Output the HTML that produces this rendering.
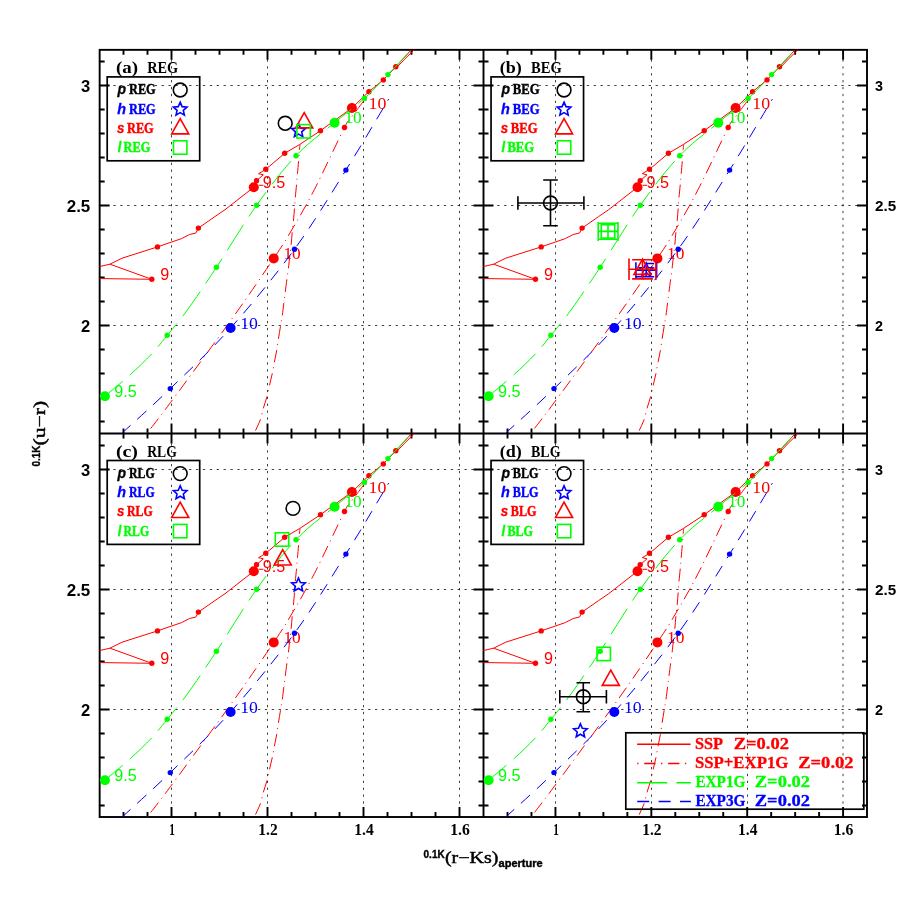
<!DOCTYPE html>
<html><head><meta charset="utf-8"><title>chart</title>
<style>html,body{margin:0;padding:0;background:#fff;}svg{display:block;will-change:transform;}</style></head>
<body>
<svg width="915" height="915" viewBox="0 0 915 915">
<rect width="915" height="915" fill="#fff"/>
<defs>
<clipPath id="clipA"><rect x="99.65" y="49.85" width="383.85" height="383.60"/></clipPath>
<g id="curves" fill="none" stroke-width="1">
<path d="M95.00,278.50 L151.80,279.30 L109.90,264.20 L95.00,267.60" stroke="#ff0000"/>
<path d="M109.90,264.20 L122.00,258.20 L157.50,246.90 L181.60,238.60 L189.50,234.50 L195.90,233.00 L198.40,228.10 L215.00,216.50 L225.00,209.70 L253.80,187.20 L256.50,180.70 L263.30,174.80 L258.60,173.70 L265.80,169.30 L284.70,153.30 L299.50,144.60 L320.50,130.70 L351.90,108.00 L368.90,91.70 L383.30,79.90 L395.80,66.80 L415.00,45.80" stroke="#ff0000"/>
<path d="M259,185.3 L263.4,185.3" stroke="#ff0000"/>
<path d="M396.6,67.6 L404.6,59.2 L413.4,50.6 L414,48" stroke="#ff0000"/>
<circle cx="151.80" cy="279.30" r="2.7" fill="#ff0000" stroke="none"/>
<circle cx="157.50" cy="246.90" r="2.7" fill="#ff0000" stroke="none"/>
<circle cx="198.40" cy="228.10" r="2.7" fill="#ff0000" stroke="none"/>
<circle cx="256.50" cy="180.70" r="2.7" fill="#ff0000" stroke="none"/>
<circle cx="265.80" cy="169.30" r="2.7" fill="#ff0000" stroke="none"/>
<circle cx="284.70" cy="153.30" r="2.7" fill="#ff0000" stroke="none"/>
<circle cx="320.50" cy="130.70" r="2.7" fill="#ff0000" stroke="none"/>
<circle cx="368.90" cy="91.70" r="2.7" fill="#ff0000" stroke="none"/>
<circle cx="383.30" cy="79.90" r="2.7" fill="#ff0000" stroke="none"/>
<circle cx="395.80" cy="66.80" r="2.7" fill="#ff0000" stroke="none"/>
<circle cx="253.80" cy="187.20" r="5.0" fill="#ff0000" stroke="none"/>
<circle cx="351.90" cy="108.00" r="5.0" fill="#ff0000" stroke="none"/>
<text x="160.20" y="279.90" fill="#ff0000" stroke="none" font-family="Liberation Sans, sans-serif" font-size="16.3px" textLength="9.00" lengthAdjust="spacingAndGlyphs">9</text>
<text x="262.70" y="188.00" fill="#ff0000" stroke="none" font-family="Liberation Sans, sans-serif" font-size="16.3px" textLength="22.50" lengthAdjust="spacingAndGlyphs">9.5</text>
<text x="368.60" y="108.70" fill="#ff0000" stroke="none" font-family="Liberation Serif, serif" font-size="17.2px" textLength="17.90" lengthAdjust="spacingAndGlyphs">10</text>
<path d="M140.00,442.50 C141.27,440.83 142.53,439.13 147.60,432.50 C152.67,425.87 156.08,422.02 170.40,402.70 C184.72,383.38 216.28,340.65 233.50,316.60 C250.72,292.55 264.00,272.83 273.70,258.40 C283.40,243.97 284.92,241.48 291.70,230.00 C298.48,218.52 305.60,206.58 314.40,189.50 C323.20,172.42 338.63,139.00 344.50,127.50 C350.37,116.00 348.30,122.40 349.60,120.50 C350.90,118.60 351.03,117.92 352.30,116.10 C353.57,114.28 355.37,112.05 357.20,109.60 C359.03,107.15 361.75,103.53 363.30,101.40 C364.85,99.27 365.97,97.57 366.50,96.80" stroke="#ff0000" stroke-dasharray="12.5 5.1 1.1 5" stroke-dashoffset="6.0"/>
<path d="M253.00,437.00 C253.43,435.90 254.37,433.30 255.60,430.40 C256.83,427.50 259.10,423.32 260.40,419.60 C261.70,415.88 262.28,412.02 263.40,408.10 C264.52,404.18 266.08,399.90 267.10,396.10 C268.12,392.30 268.65,389.00 269.50,385.30 C270.35,381.60 271.40,377.70 272.20,373.90 C273.00,370.10 273.55,366.42 274.30,362.50 C275.05,358.58 276.02,354.32 276.70,350.40 C277.38,346.48 277.73,343.23 278.40,339.00 C279.07,334.77 280.07,328.83 280.70,325.00 C281.33,321.17 281.65,319.82 282.20,316.00 C282.75,312.18 283.50,306.02 284.00,302.10 C284.50,298.18 284.70,296.40 285.20,292.50 C285.70,288.60 286.48,282.60 287.00,278.70 C287.52,274.80 287.83,272.92 288.30,269.10 C288.77,265.28 289.35,259.65 289.80,255.80 C290.25,251.95 290.60,249.90 291.00,246.00 C291.40,242.10 291.80,236.47 292.20,232.40 C292.60,228.33 293.02,225.62 293.40,221.60 C293.78,217.58 294.18,212.32 294.50,208.30 C294.82,204.28 294.93,201.70 295.30,197.50 C295.67,193.30 296.35,186.90 296.70,183.10 C297.05,179.30 297.08,178.42 297.40,174.70 C297.72,170.98 298.25,165.02 298.60,160.80 C298.95,156.58 299.27,152.10 299.50,149.40 C299.73,146.70 299.92,145.40 300.00,144.60" stroke="#ff0000" stroke-dasharray="12.5 5.1 1.1 5.05" stroke-dashoffset="16.95"/>
<circle cx="344.50" cy="127.50" r="2.7" fill="#ff0000" stroke="none"/>
<circle cx="273.70" cy="258.40" r="5.0" fill="#ff0000" stroke="none"/>
<text x="283.40" y="259.20" fill="#ff0000" stroke="none" font-family="Liberation Serif, serif" font-size="17.2px" textLength="17.30" lengthAdjust="spacingAndGlyphs">10</text>
<path d="M104.90,396.20 C109.05,392.68 121.98,382.17 129.80,375.10 C137.62,368.03 145.57,360.43 151.80,353.80 C158.03,347.17 161.28,342.60 167.20,335.30 C173.12,328.00 179.08,321.35 187.30,310.00 C195.52,298.65 204.95,284.67 216.50,267.20 C228.05,249.73 243.35,223.78 256.60,205.20 C269.85,186.62 283.00,169.45 296.00,155.70 C309.00,141.95 323.20,132.25 334.60,122.70 C346.00,113.15 355.52,106.42 364.40,98.40 C373.28,90.38 379.47,83.37 387.90,74.60 C396.33,65.83 410.48,50.60 415.00,45.80" stroke="#00ff00" stroke-dasharray="30 9.7" stroke-dashoffset="6.75"/>
<circle cx="167.20" cy="335.30" r="2.7" fill="#00ff00" stroke="none"/>
<circle cx="216.50" cy="267.20" r="2.7" fill="#00ff00" stroke="none"/>
<circle cx="256.60" cy="205.20" r="2.7" fill="#00ff00" stroke="none"/>
<circle cx="296.00" cy="155.70" r="2.7" fill="#00ff00" stroke="none"/>
<circle cx="364.40" cy="98.40" r="2.7" fill="#00ff00" stroke="none"/>
<circle cx="387.90" cy="74.60" r="2.7" fill="#00ff00" stroke="none"/>
<circle cx="104.90" cy="396.20" r="5.0" fill="#00ff00" stroke="none"/>
<circle cx="334.60" cy="122.70" r="5.0" fill="#00ff00" stroke="none"/>
<text x="114.30" y="396.80" fill="#00ff00" stroke="none" font-family="Liberation Sans, sans-serif" font-size="16.3px" textLength="22.60" lengthAdjust="spacingAndGlyphs">9.5</text>
<text x="344.40" y="123.30" fill="#00ff00" stroke="none" font-family="Liberation Serif, serif" font-size="17.2px" textLength="17.30" lengthAdjust="spacingAndGlyphs">10</text>
<path d="M112.00,442.50 C113.78,440.83 112.98,441.48 122.70,432.50 C132.42,423.52 152.32,406.02 170.30,388.60 C188.28,371.18 209.90,351.23 230.60,328.00 C251.30,304.77 275.28,275.52 294.50,249.20 C313.72,222.88 330.20,195.13 345.90,170.10 C361.60,145.07 381.57,110.85 388.70,99.00" stroke="#0000ff" stroke-dasharray="12.2 9.22" stroke-dashoffset="8.26"/>
<circle cx="170.30" cy="388.60" r="2.7" fill="#0000ff" stroke="none"/>
<circle cx="294.50" cy="249.20" r="2.7" fill="#0000ff" stroke="none"/>
<circle cx="345.90" cy="170.10" r="2.7" fill="#0000ff" stroke="none"/>
<circle cx="230.60" cy="328.00" r="5.0" fill="#0000ff" stroke="none"/>
<text x="240.20" y="328.90" fill="#0000ff" stroke="none" font-family="Liberation Serif, serif" font-size="17.2px" textLength="17.70" lengthAdjust="spacingAndGlyphs">10</text>
</g>
<circle id="mC" cx="0" cy="0" r="6.9" fill="none" stroke="#000" stroke-width="1.6"/>
<path id="mS" d="M0.00,-7.15 L1.94,-2.67 L6.80,-2.21 L3.14,1.02 L4.20,5.78 L0.00,3.30 L-4.20,5.78 L-3.14,1.02 L-6.80,-2.21 L-1.94,-2.67 Z" fill="none" stroke="#0000ff" stroke-width="1.6" stroke-linejoin="miter"/>
<path id="mT" d="M0,-10.3 L8.55,5 L-8.55,5 Z" fill="none" stroke="#ff0000" stroke-width="1.6" stroke-linejoin="miter"/>
<rect id="mQ" x="-6.7" y="-6.7" width="13.4" height="13.4" fill="none" stroke="#00ff00" stroke-width="1.6"/>
</defs>
<g stroke="#000" stroke-width="1.9" fill="none" stroke-linecap="butt">
<rect x="99.65" y="49.85" width="767.35" height="767.15"/>
<path d="M483.50,49.85 V817.00 M99.65,433.45 H867.00"/>
<path d="M123.50,49.85 v5.00 M123.50,428.45 v10.00 M123.50,817.00 v-5.00"/>
<path d="M147.50,49.85 v5.00 M147.50,428.45 v10.00 M147.50,817.00 v-5.00"/>
<path d="M171.50,49.85 v10.00 M171.50,423.45 v20.00 M171.50,817.00 v-10.00"/>
<path d="M195.50,49.85 v5.00 M195.50,428.45 v10.00 M195.50,817.00 v-5.00"/>
<path d="M219.50,49.85 v5.00 M219.50,428.45 v10.00 M219.50,817.00 v-5.00"/>
<path d="M243.50,49.85 v5.00 M243.50,428.45 v10.00 M243.50,817.00 v-5.00"/>
<path d="M267.50,49.85 v10.00 M267.50,423.45 v20.00 M267.50,817.00 v-10.00"/>
<path d="M291.50,49.85 v5.00 M291.50,428.45 v10.00 M291.50,817.00 v-5.00"/>
<path d="M315.50,49.85 v5.00 M315.50,428.45 v10.00 M315.50,817.00 v-5.00"/>
<path d="M339.50,49.85 v5.00 M339.50,428.45 v10.00 M339.50,817.00 v-5.00"/>
<path d="M363.50,49.85 v10.00 M363.50,423.45 v20.00 M363.50,817.00 v-10.00"/>
<path d="M387.50,49.85 v5.00 M387.50,428.45 v10.00 M387.50,817.00 v-5.00"/>
<path d="M411.50,49.85 v5.00 M411.50,428.45 v10.00 M411.50,817.00 v-5.00"/>
<path d="M435.50,49.85 v5.00 M435.50,428.45 v10.00 M435.50,817.00 v-5.00"/>
<path d="M459.50,49.85 v10.00 M459.50,423.45 v20.00 M459.50,817.00 v-10.00"/>
<path d="M507.51,49.85 v5.00 M507.51,428.45 v10.00 M507.51,817.00 v-5.00"/>
<path d="M531.48,49.85 v5.00 M531.48,428.45 v10.00 M531.48,817.00 v-5.00"/>
<path d="M555.45,49.85 v10.00 M555.45,423.45 v20.00 M555.45,817.00 v-10.00"/>
<path d="M579.42,49.85 v5.00 M579.42,428.45 v10.00 M579.42,817.00 v-5.00"/>
<path d="M603.39,49.85 v5.00 M603.39,428.45 v10.00 M603.39,817.00 v-5.00"/>
<path d="M627.36,49.85 v5.00 M627.36,428.45 v10.00 M627.36,817.00 v-5.00"/>
<path d="M651.33,49.85 v10.00 M651.33,423.45 v20.00 M651.33,817.00 v-10.00"/>
<path d="M675.30,49.85 v5.00 M675.30,428.45 v10.00 M675.30,817.00 v-5.00"/>
<path d="M699.27,49.85 v5.00 M699.27,428.45 v10.00 M699.27,817.00 v-5.00"/>
<path d="M723.24,49.85 v5.00 M723.24,428.45 v10.00 M723.24,817.00 v-5.00"/>
<path d="M747.21,49.85 v10.00 M747.21,423.45 v20.00 M747.21,817.00 v-10.00"/>
<path d="M771.18,49.85 v5.00 M771.18,428.45 v10.00 M771.18,817.00 v-5.00"/>
<path d="M795.15,49.85 v5.00 M795.15,428.45 v10.00 M795.15,817.00 v-5.00"/>
<path d="M819.12,49.85 v5.00 M819.12,428.45 v10.00 M819.12,817.00 v-5.00"/>
<path d="M843.09,49.85 v10.00 M843.09,423.45 v20.00 M843.09,817.00 v-10.00"/>
<path d="M99.65,421.50 h5.00 M478.50,421.50 h10.00 M867.00,421.50 h-5.00"/>
<path d="M99.65,397.50 h5.00 M478.50,397.50 h10.00 M867.00,397.50 h-5.00"/>
<path d="M99.65,373.50 h5.00 M478.50,373.50 h10.00 M867.00,373.50 h-5.00"/>
<path d="M99.65,349.50 h5.00 M478.50,349.50 h10.00 M867.00,349.50 h-5.00"/>
<path d="M99.65,325.50 h10.00 M473.50,325.50 h20.00 M867.00,325.50 h-10.00"/>
<path d="M99.65,301.50 h5.00 M478.50,301.50 h10.00 M867.00,301.50 h-5.00"/>
<path d="M99.65,277.50 h5.00 M478.50,277.50 h10.00 M867.00,277.50 h-5.00"/>
<path d="M99.65,253.50 h5.00 M478.50,253.50 h10.00 M867.00,253.50 h-5.00"/>
<path d="M99.65,229.50 h5.00 M478.50,229.50 h10.00 M867.00,229.50 h-5.00"/>
<path d="M99.65,205.50 h10.00 M473.50,205.50 h20.00 M867.00,205.50 h-10.00"/>
<path d="M99.65,181.50 h5.00 M478.50,181.50 h10.00 M867.00,181.50 h-5.00"/>
<path d="M99.65,157.50 h5.00 M478.50,157.50 h10.00 M867.00,157.50 h-5.00"/>
<path d="M99.65,133.50 h5.00 M478.50,133.50 h10.00 M867.00,133.50 h-5.00"/>
<path d="M99.65,109.50 h5.00 M478.50,109.50 h10.00 M867.00,109.50 h-5.00"/>
<path d="M99.65,85.50 h10.00 M473.50,85.50 h20.00 M867.00,85.50 h-10.00"/>
<path d="M99.65,61.50 h5.00 M478.50,61.50 h10.00 M867.00,61.50 h-5.00"/>
<path d="M99.65,805.50 h5.00 M478.50,805.50 h10.00 M867.00,805.50 h-5.00"/>
<path d="M99.65,781.50 h5.00 M478.50,781.50 h10.00 M867.00,781.50 h-5.00"/>
<path d="M99.65,757.50 h5.00 M478.50,757.50 h10.00 M867.00,757.50 h-5.00"/>
<path d="M99.65,733.50 h5.00 M478.50,733.50 h10.00 M867.00,733.50 h-5.00"/>
<path d="M99.65,709.50 h10.00 M473.50,709.50 h20.00 M867.00,709.50 h-10.00"/>
<path d="M99.65,685.50 h5.00 M478.50,685.50 h10.00 M867.00,685.50 h-5.00"/>
<path d="M99.65,661.50 h5.00 M478.50,661.50 h10.00 M867.00,661.50 h-5.00"/>
<path d="M99.65,637.50 h5.00 M478.50,637.50 h10.00 M867.00,637.50 h-5.00"/>
<path d="M99.65,613.50 h5.00 M478.50,613.50 h10.00 M867.00,613.50 h-5.00"/>
<path d="M99.65,589.50 h10.00 M473.50,589.50 h20.00 M867.00,589.50 h-10.00"/>
<path d="M99.65,565.50 h5.00 M478.50,565.50 h10.00 M867.00,565.50 h-5.00"/>
<path d="M99.65,541.50 h5.00 M478.50,541.50 h10.00 M867.00,541.50 h-5.00"/>
<path d="M99.65,517.50 h5.00 M478.50,517.50 h10.00 M867.00,517.50 h-5.00"/>
<path d="M99.65,493.50 h5.00 M478.50,493.50 h10.00 M867.00,493.50 h-5.00"/>
<path d="M99.65,469.50 h10.00 M473.50,469.50 h20.00 M867.00,469.50 h-10.00"/>
<path d="M99.65,445.50 h5.00 M478.50,445.50 h10.00 M867.00,445.50 h-5.00"/>
</g>
<g stroke="#000" stroke-width="0.75" stroke-dasharray="2.3 4.584" fill="none">
<path d="M171.50,433.45 V49.85"/>
<path d="M267.50,433.45 V49.85"/>
<path d="M363.50,433.45 V49.85"/>
<path d="M459.50,433.45 V49.85"/>
<path d="M99.65,325.50 H483.50"/>
<path d="M99.65,205.50 H483.50"/>
<path d="M99.65,85.50 H483.50"/>
</g>
<g transform="translate(0.00,0.00)">
<g clip-path="url(#clipA)">
<use href="#curves"/>
</g>
</g>
<g stroke="#000" stroke-width="0.75" stroke-dasharray="2.3 4.584" fill="none">
<path d="M555.50,433.45 V49.85"/>
<path d="M651.50,433.45 V49.85"/>
<path d="M747.50,433.45 V49.85"/>
<path d="M843.00,433.45 V49.85"/>
<path d="M483.50,325.50 H867.00"/>
<path d="M483.50,205.50 H867.00"/>
<path d="M483.50,85.50 H867.00"/>
</g>
<g transform="translate(383.70,0.00)">
<g clip-path="url(#clipA)">
<use href="#curves"/>
</g>
</g>
<g stroke="#000" stroke-width="0.75" stroke-dasharray="2.3 4.584" fill="none">
<path d="M171.50,817.45 V433.45"/>
<path d="M267.50,817.45 V433.45"/>
<path d="M363.50,817.45 V433.45"/>
<path d="M459.50,817.45 V433.45"/>
<path d="M99.65,709.50 H483.50"/>
<path d="M99.65,589.50 H483.50"/>
<path d="M99.65,469.50 H483.50"/>
</g>
<g transform="translate(0.00,384.00)">
<g clip-path="url(#clipA)">
<use href="#curves"/>
</g>
</g>
<g stroke="#000" stroke-width="0.75" stroke-dasharray="2.3 4.584" fill="none">
<path d="M555.50,817.45 V433.45"/>
<path d="M651.50,817.45 V433.45"/>
<path d="M747.50,817.45 V433.45"/>
<path d="M843.00,817.45 V433.45"/>
<path d="M483.50,709.50 H867.00"/>
<path d="M483.50,589.50 H867.00"/>
<path d="M483.50,469.50 H867.00"/>
</g>
<g transform="translate(383.70,384.00)">
<g clip-path="url(#clipA)">
<use href="#curves"/>
</g>
</g>
<text x="81.10" y="91.70" font-family="Liberation Sans, sans-serif" font-size="16px" fill="#000" font-weight="bold" textLength="9.20" lengthAdjust="spacingAndGlyphs">3</text>
<text x="875.00" y="90.70" font-family="Liberation Sans, sans-serif" font-size="14.5px" fill="#000" font-weight="bold" textLength="8.00" lengthAdjust="spacingAndGlyphs">3</text>
<text x="66.70" y="211.70" font-family="Liberation Sans, sans-serif" font-size="16px" fill="#000" font-weight="bold" textLength="23.60" lengthAdjust="spacingAndGlyphs">2.5</text>
<text x="875.00" y="210.70" font-family="Liberation Sans, sans-serif" font-size="14.5px" fill="#000" font-weight="bold" textLength="21.20" lengthAdjust="spacingAndGlyphs">2.5</text>
<text x="81.10" y="331.70" font-family="Liberation Sans, sans-serif" font-size="16px" fill="#000" font-weight="bold" textLength="9.20" lengthAdjust="spacingAndGlyphs">2</text>
<text x="875.00" y="330.70" font-family="Liberation Sans, sans-serif" font-size="14.5px" fill="#000" font-weight="bold" textLength="8.00" lengthAdjust="spacingAndGlyphs">2</text>
<text x="81.10" y="475.70" font-family="Liberation Sans, sans-serif" font-size="16px" fill="#000" font-weight="bold" textLength="9.20" lengthAdjust="spacingAndGlyphs">3</text>
<text x="875.00" y="474.70" font-family="Liberation Sans, sans-serif" font-size="14.5px" fill="#000" font-weight="bold" textLength="8.00" lengthAdjust="spacingAndGlyphs">3</text>
<text x="66.70" y="595.70" font-family="Liberation Sans, sans-serif" font-size="16px" fill="#000" font-weight="bold" textLength="23.60" lengthAdjust="spacingAndGlyphs">2.5</text>
<text x="875.00" y="594.70" font-family="Liberation Sans, sans-serif" font-size="14.5px" fill="#000" font-weight="bold" textLength="21.20" lengthAdjust="spacingAndGlyphs">2.5</text>
<text x="81.10" y="715.70" font-family="Liberation Sans, sans-serif" font-size="16px" fill="#000" font-weight="bold" textLength="9.20" lengthAdjust="spacingAndGlyphs">2</text>
<text x="875.00" y="714.70" font-family="Liberation Sans, sans-serif" font-size="14.5px" fill="#000" font-weight="bold" textLength="8.00" lengthAdjust="spacingAndGlyphs">2</text>
<text x="169.20" y="835.30" font-family="Liberation Serif, serif" font-size="16px" fill="#000" font-weight="bold" textLength="5.60" lengthAdjust="spacingAndGlyphs">1</text>
<text x="258.30" y="835.30" font-family="Liberation Serif, serif" font-size="16px" fill="#000" font-weight="bold" textLength="19.40" lengthAdjust="spacingAndGlyphs">1.2</text>
<text x="354.30" y="835.30" font-family="Liberation Serif, serif" font-size="16px" fill="#000" font-weight="bold" textLength="19.40" lengthAdjust="spacingAndGlyphs">1.4</text>
<text x="450.20" y="835.30" font-family="Liberation Serif, serif" font-size="16px" fill="#000" font-weight="bold" textLength="19.60" lengthAdjust="spacingAndGlyphs">1.6</text>
<text x="553.15" y="835.30" font-family="Liberation Serif, serif" font-size="16px" fill="#000" font-weight="bold" textLength="5.60" lengthAdjust="spacingAndGlyphs">1</text>
<text x="642.13" y="835.30" font-family="Liberation Serif, serif" font-size="16px" fill="#000" font-weight="bold" textLength="19.40" lengthAdjust="spacingAndGlyphs">1.2</text>
<text x="738.01" y="835.30" font-family="Liberation Serif, serif" font-size="16px" fill="#000" font-weight="bold" textLength="19.40" lengthAdjust="spacingAndGlyphs">1.4</text>
<text x="833.79" y="835.30" font-family="Liberation Serif, serif" font-size="16px" fill="#000" font-weight="bold" textLength="19.60" lengthAdjust="spacingAndGlyphs">1.6</text>
<text x="423.60" y="858.30" font-family="Liberation Sans, sans-serif" font-size="10.8px" fill="#000" font-weight="bold" textLength="21.00" lengthAdjust="spacingAndGlyphs" stroke="#000" stroke-width="0.4">0.1K</text>
<text x="444.90" y="863.00" font-family="Liberation Serif, serif" font-size="16.5px" fill="#000" font-weight="normal" textLength="53.50" lengthAdjust="spacingAndGlyphs" stroke="#000" stroke-width="0.45">(r−Ks)</text>
<text x="498.60" y="867.10" font-family="Liberation Sans, sans-serif" font-size="10px" fill="#000" font-weight="bold" textLength="44.00" lengthAdjust="spacingAndGlyphs" stroke="#000" stroke-width="0.4">aperture</text>
<g transform="translate(44.9,466.5) rotate(-90)">
<text x="0.00" y="-5.00" font-family="Liberation Sans, sans-serif" font-size="10.8px" fill="#000" font-weight="bold" textLength="21.00" lengthAdjust="spacingAndGlyphs" stroke="#000" stroke-width="0.4">0.1K</text>
<text x="21.00" y="0.00" font-family="Liberation Serif, serif" font-size="16.5px" fill="#000" font-weight="normal" textLength="44.60" lengthAdjust="spacingAndGlyphs" stroke="#000" stroke-width="0.45">(u−r)</text>
</g>
<g transform="translate(0.00,0.00)">
<text x="115.90" y="73.20" font-family="Liberation Serif, serif" font-size="16.5px" fill="#000" font-weight="bold" textLength="22.10" lengthAdjust="spacingAndGlyphs">(a)</text>
<text x="147.20" y="73.20" font-family="Liberation Serif, serif" font-size="16.5px" fill="#000" font-weight="bold" textLength="31.00" lengthAdjust="spacingAndGlyphs">REG</text>
<rect x="107.2" y="76.9" width="92.5" height="83.9" fill="none" stroke="#000" stroke-width="1.7"/>
<text x="117.60" y="94.30" font-family="Liberation Sans, sans-serif" font-size="14px" fill="#000" font-weight="bold" font-style="italic" textLength="8.60" lengthAdjust="spacingAndGlyphs" stroke="#000" stroke-width="0.3">p</text>
<text x="129.00" y="94.30" font-family="Liberation Serif, serif" font-size="15px" fill="#000" font-weight="bold" textLength="26.70" lengthAdjust="spacingAndGlyphs" stroke="#000" stroke-width="0.45">REG</text>
<use href="#mC" x="180.2" y="90.00"/>
<text x="117.20" y="113.70" font-family="Liberation Sans, sans-serif" font-size="14px" fill="#0000ff" font-weight="bold" font-style="italic" textLength="8.80" lengthAdjust="spacingAndGlyphs" stroke="#0000ff" stroke-width="0.3">h</text>
<text x="129.00" y="113.70" font-family="Liberation Serif, serif" font-size="15px" fill="#0000ff" font-weight="bold" textLength="26.70" lengthAdjust="spacingAndGlyphs" stroke="#0000ff" stroke-width="0.45">REG</text>
<use href="#mS" x="180.2" y="109.30"/>
<text x="117.00" y="132.80" font-family="Liberation Sans, sans-serif" font-size="14px" fill="#ff0000" font-weight="bold" font-style="italic" textLength="7.40" lengthAdjust="spacingAndGlyphs" stroke="#ff0000" stroke-width="0.3">s</text>
<text x="127.00" y="132.80" font-family="Liberation Serif, serif" font-size="15px" fill="#ff0000" font-weight="bold" textLength="26.70" lengthAdjust="spacingAndGlyphs" stroke="#ff0000" stroke-width="0.45">REG</text>
<use href="#mT" x="180.2" y="128.90"/>
<text x="117.70" y="152.00" font-family="Liberation Sans, sans-serif" font-size="14px" fill="#00ff00" font-weight="bold" font-style="italic" textLength="3.60" lengthAdjust="spacingAndGlyphs" stroke="#00ff00" stroke-width="0.3">l</text>
<text x="123.60" y="152.00" font-family="Liberation Serif, serif" font-size="15px" fill="#00ff00" font-weight="bold" textLength="26.70" lengthAdjust="spacingAndGlyphs" stroke="#00ff00" stroke-width="0.45">REG</text>
<use href="#mQ" x="180.2" y="147.50"/>
</g>
<g transform="translate(383.85,0.00)">
<text x="115.90" y="73.20" font-family="Liberation Serif, serif" font-size="16.5px" fill="#000" font-weight="bold" textLength="22.10" lengthAdjust="spacingAndGlyphs">(b)</text>
<text x="147.20" y="73.20" font-family="Liberation Serif, serif" font-size="16.5px" fill="#000" font-weight="bold" textLength="30.80" lengthAdjust="spacingAndGlyphs">BEG</text>
<rect x="107.2" y="76.9" width="92.5" height="83.9" fill="none" stroke="#000" stroke-width="1.7"/>
<text x="117.60" y="94.30" font-family="Liberation Sans, sans-serif" font-size="14px" fill="#000" font-weight="bold" font-style="italic" textLength="8.60" lengthAdjust="spacingAndGlyphs" stroke="#000" stroke-width="0.3">p</text>
<text x="129.00" y="94.30" font-family="Liberation Serif, serif" font-size="15px" fill="#000" font-weight="bold" textLength="26.70" lengthAdjust="spacingAndGlyphs" stroke="#000" stroke-width="0.45">BEG</text>
<use href="#mC" x="180.2" y="90.00"/>
<text x="117.20" y="113.70" font-family="Liberation Sans, sans-serif" font-size="14px" fill="#0000ff" font-weight="bold" font-style="italic" textLength="8.80" lengthAdjust="spacingAndGlyphs" stroke="#0000ff" stroke-width="0.3">h</text>
<text x="129.00" y="113.70" font-family="Liberation Serif, serif" font-size="15px" fill="#0000ff" font-weight="bold" textLength="26.70" lengthAdjust="spacingAndGlyphs" stroke="#0000ff" stroke-width="0.45">BEG</text>
<use href="#mS" x="180.2" y="109.30"/>
<text x="117.00" y="132.80" font-family="Liberation Sans, sans-serif" font-size="14px" fill="#ff0000" font-weight="bold" font-style="italic" textLength="7.40" lengthAdjust="spacingAndGlyphs" stroke="#ff0000" stroke-width="0.3">s</text>
<text x="127.00" y="132.80" font-family="Liberation Serif, serif" font-size="15px" fill="#ff0000" font-weight="bold" textLength="26.70" lengthAdjust="spacingAndGlyphs" stroke="#ff0000" stroke-width="0.45">BEG</text>
<use href="#mT" x="180.2" y="128.90"/>
<text x="117.70" y="152.00" font-family="Liberation Sans, sans-serif" font-size="14px" fill="#00ff00" font-weight="bold" font-style="italic" textLength="3.60" lengthAdjust="spacingAndGlyphs" stroke="#00ff00" stroke-width="0.3">l</text>
<text x="123.60" y="152.00" font-family="Liberation Serif, serif" font-size="15px" fill="#00ff00" font-weight="bold" textLength="26.70" lengthAdjust="spacingAndGlyphs" stroke="#00ff00" stroke-width="0.45">BEG</text>
<use href="#mQ" x="180.2" y="147.50"/>
</g>
<g transform="translate(0.00,383.60)">
<text x="115.90" y="73.20" font-family="Liberation Serif, serif" font-size="16.5px" fill="#000" font-weight="bold" textLength="22.10" lengthAdjust="spacingAndGlyphs">(c)</text>
<text x="147.20" y="73.20" font-family="Liberation Serif, serif" font-size="16.5px" fill="#000" font-weight="bold" textLength="29.60" lengthAdjust="spacingAndGlyphs">RLG</text>
<rect x="107.2" y="76.9" width="92.5" height="83.9" fill="none" stroke="#000" stroke-width="1.7"/>
<text x="117.60" y="94.30" font-family="Liberation Sans, sans-serif" font-size="14px" fill="#000" font-weight="bold" font-style="italic" textLength="8.60" lengthAdjust="spacingAndGlyphs" stroke="#000" stroke-width="0.3">p</text>
<text x="129.00" y="94.30" font-family="Liberation Serif, serif" font-size="15px" fill="#000" font-weight="bold" textLength="25.60" lengthAdjust="spacingAndGlyphs" stroke="#000" stroke-width="0.45">RLG</text>
<use href="#mC" x="180.2" y="90.00"/>
<text x="117.20" y="113.70" font-family="Liberation Sans, sans-serif" font-size="14px" fill="#0000ff" font-weight="bold" font-style="italic" textLength="8.80" lengthAdjust="spacingAndGlyphs" stroke="#0000ff" stroke-width="0.3">h</text>
<text x="129.00" y="113.70" font-family="Liberation Serif, serif" font-size="15px" fill="#0000ff" font-weight="bold" textLength="25.60" lengthAdjust="spacingAndGlyphs" stroke="#0000ff" stroke-width="0.45">RLG</text>
<use href="#mS" x="180.2" y="109.30"/>
<text x="117.00" y="132.80" font-family="Liberation Sans, sans-serif" font-size="14px" fill="#ff0000" font-weight="bold" font-style="italic" textLength="7.40" lengthAdjust="spacingAndGlyphs" stroke="#ff0000" stroke-width="0.3">s</text>
<text x="127.00" y="132.80" font-family="Liberation Serif, serif" font-size="15px" fill="#ff0000" font-weight="bold" textLength="25.60" lengthAdjust="spacingAndGlyphs" stroke="#ff0000" stroke-width="0.45">RLG</text>
<use href="#mT" x="180.2" y="128.90"/>
<text x="117.70" y="152.00" font-family="Liberation Sans, sans-serif" font-size="14px" fill="#00ff00" font-weight="bold" font-style="italic" textLength="3.60" lengthAdjust="spacingAndGlyphs" stroke="#00ff00" stroke-width="0.3">l</text>
<text x="123.60" y="152.00" font-family="Liberation Serif, serif" font-size="15px" fill="#00ff00" font-weight="bold" textLength="25.60" lengthAdjust="spacingAndGlyphs" stroke="#00ff00" stroke-width="0.45">RLG</text>
<use href="#mQ" x="180.2" y="147.50"/>
</g>
<g transform="translate(383.85,383.60)">
<text x="115.90" y="73.20" font-family="Liberation Serif, serif" font-size="16.5px" fill="#000" font-weight="bold" textLength="22.10" lengthAdjust="spacingAndGlyphs">(d)</text>
<text x="147.20" y="73.20" font-family="Liberation Serif, serif" font-size="16.5px" fill="#000" font-weight="bold" textLength="29.50" lengthAdjust="spacingAndGlyphs">BLG</text>
<rect x="107.2" y="76.9" width="92.5" height="83.9" fill="none" stroke="#000" stroke-width="1.7"/>
<text x="117.60" y="94.30" font-family="Liberation Sans, sans-serif" font-size="14px" fill="#000" font-weight="bold" font-style="italic" textLength="8.60" lengthAdjust="spacingAndGlyphs" stroke="#000" stroke-width="0.3">p</text>
<text x="129.00" y="94.30" font-family="Liberation Serif, serif" font-size="15px" fill="#000" font-weight="bold" textLength="25.60" lengthAdjust="spacingAndGlyphs" stroke="#000" stroke-width="0.45">BLG</text>
<use href="#mC" x="180.2" y="90.00"/>
<text x="117.20" y="113.70" font-family="Liberation Sans, sans-serif" font-size="14px" fill="#0000ff" font-weight="bold" font-style="italic" textLength="8.80" lengthAdjust="spacingAndGlyphs" stroke="#0000ff" stroke-width="0.3">h</text>
<text x="129.00" y="113.70" font-family="Liberation Serif, serif" font-size="15px" fill="#0000ff" font-weight="bold" textLength="25.60" lengthAdjust="spacingAndGlyphs" stroke="#0000ff" stroke-width="0.45">BLG</text>
<use href="#mS" x="180.2" y="109.30"/>
<text x="117.00" y="132.80" font-family="Liberation Sans, sans-serif" font-size="14px" fill="#ff0000" font-weight="bold" font-style="italic" textLength="7.40" lengthAdjust="spacingAndGlyphs" stroke="#ff0000" stroke-width="0.3">s</text>
<text x="127.00" y="132.80" font-family="Liberation Serif, serif" font-size="15px" fill="#ff0000" font-weight="bold" textLength="25.60" lengthAdjust="spacingAndGlyphs" stroke="#ff0000" stroke-width="0.45">BLG</text>
<use href="#mT" x="180.2" y="128.90"/>
<text x="117.70" y="152.00" font-family="Liberation Sans, sans-serif" font-size="14px" fill="#00ff00" font-weight="bold" font-style="italic" textLength="3.60" lengthAdjust="spacingAndGlyphs" stroke="#00ff00" stroke-width="0.3">l</text>
<text x="123.60" y="152.00" font-family="Liberation Serif, serif" font-size="15px" fill="#00ff00" font-weight="bold" textLength="25.60" lengthAdjust="spacingAndGlyphs" stroke="#00ff00" stroke-width="0.45">BLG</text>
<use href="#mQ" x="180.2" y="147.50"/>
</g>
<use href="#mC" x="285.2" y="123.3"/>
<use href="#mS" x="298.6" y="130.8"/>
<use href="#mT" x="304.2" y="122.9"/>
<use href="#mQ" x="303.6" y="131.3"/>
<path d="M517.90,203.00 H583.90 M517.90,196.20 V209.80 M583.90,196.20 V209.80 M550.50,180.00 V225.80 M543.20,180.00 H557.80 M543.20,225.80 H557.80" stroke="#000" stroke-width="1.6" fill="none"/>
<use href="#mC" x="550.5" y="203.0"/>
<path d="M635.9,270.1 H656.6 M635.9,262.2 V278.1 M656.6,262.2 V278.1 M646.2,263.5 V276.7 M645.8,263.5 H654.2 M635.9,276.7 H654.2" stroke="#0000ff" stroke-width="1.6" fill="none"/>
<use href="#mS" x="646.2" y="270.1"/>
<path d="M629.00,269.20 H655.90 M629.00,258.50 V279.90 M655.90,258.50 V279.90 M642.50,259.80 V278.90 M632.10,259.80 H652.90 M632.10,278.90 H652.90" stroke="#ff0000" stroke-width="1.6" fill="none"/>
<use href="#mT" x="642.5" y="269.4"/>
<path d="M598.20,231.40 H618.00 M598.20,221.90 V240.90 M618.00,221.90 V240.90 M608.00,223.30 V239.30 M598.10,223.30 H617.90 M598.10,239.30 H617.90" stroke="#00ff00" stroke-width="1.6" fill="none"/>
<use href="#mQ" x="608.0" y="231.4"/>
<use href="#mC" x="293.0" y="508.4"/>
<use href="#mS" x="298.45" y="585.2"/>
<use href="#mT" x="282.7" y="560.0"/>
<use href="#mQ" x="282.0" y="539.5"/>
<path d="M559.80,696.80 H606.40 M559.80,690.00 V703.60 M606.40,690.00 V703.60 M583.30,682.80 V711.70 M576.50,682.80 H590.10 M576.50,711.70 H590.10" stroke="#000" stroke-width="1.6" fill="none"/>
<use href="#mC" x="583.3" y="696.8"/>
<use href="#mS" x="580.4" y="731.0"/>
<use href="#mT" x="610.8" y="680.4"/>
<use href="#mQ" x="603.7" y="653.9"/>
<rect x="625.8" y="732.8" width="238.0" height="76.4" fill="none" stroke="#000" stroke-width="1.7"/>
<g fill="none" stroke-width="1.5">
<path d="M637.1,744.2 H690.6" stroke="#ff0000"/>
<path d="M637.2,763.6 H690.6" stroke="#ff0000" stroke-dasharray="1.3 5.75 11.3 5.5"/>
<path d="M637.2,782.8 H690.9" stroke="#00ff00" stroke-dasharray="30 9.2"/>
<path d="M637.2,801.5 H690.9" stroke="#0000ff" stroke-dasharray="12 9.4"/>
</g>
<text x="694.90" y="748.50" font-family="Liberation Serif, serif" font-size="16.5px" fill="#ff0000" font-weight="bold" textLength="28.10" lengthAdjust="spacingAndGlyphs" stroke="#ff0000" stroke-width="0.3">SSP</text>
<text x="733.70" y="748.50" font-family="Liberation Serif, serif" font-size="16.5px" fill="#ff0000" font-weight="bold" textLength="55.20" lengthAdjust="spacingAndGlyphs" stroke="#ff0000" stroke-width="0.3">Z=0.02</text>
<text x="694.90" y="767.70" font-family="Liberation Serif, serif" font-size="16.5px" fill="#ff0000" font-weight="bold" textLength="93.50" lengthAdjust="spacingAndGlyphs" stroke="#ff0000" stroke-width="0.3">SSP+EXP1G</text>
<text x="798.20" y="767.70" font-family="Liberation Serif, serif" font-size="16.5px" fill="#ff0000" font-weight="bold" textLength="55.40" lengthAdjust="spacingAndGlyphs" stroke="#ff0000" stroke-width="0.3">Z=0.02</text>
<text x="695.40" y="786.90" font-family="Liberation Serif, serif" font-size="16.5px" fill="#00ff00" font-weight="bold" textLength="50.00" lengthAdjust="spacingAndGlyphs" stroke="#00ff00" stroke-width="0.3">EXP1G</text>
<text x="754.80" y="786.90" font-family="Liberation Serif, serif" font-size="16.5px" fill="#00ff00" font-weight="bold" textLength="55.20" lengthAdjust="spacingAndGlyphs" stroke="#00ff00" stroke-width="0.3">Z=0.02</text>
<text x="695.40" y="806.40" font-family="Liberation Serif, serif" font-size="16.5px" fill="#0000ff" font-weight="bold" textLength="50.00" lengthAdjust="spacingAndGlyphs" stroke="#0000ff" stroke-width="0.3">EXP3G</text>
<text x="754.80" y="806.40" font-family="Liberation Serif, serif" font-size="16.5px" fill="#0000ff" font-weight="bold" textLength="55.20" lengthAdjust="spacingAndGlyphs" stroke="#0000ff" stroke-width="0.3">Z=0.02</text>
</svg>
</body></html>
